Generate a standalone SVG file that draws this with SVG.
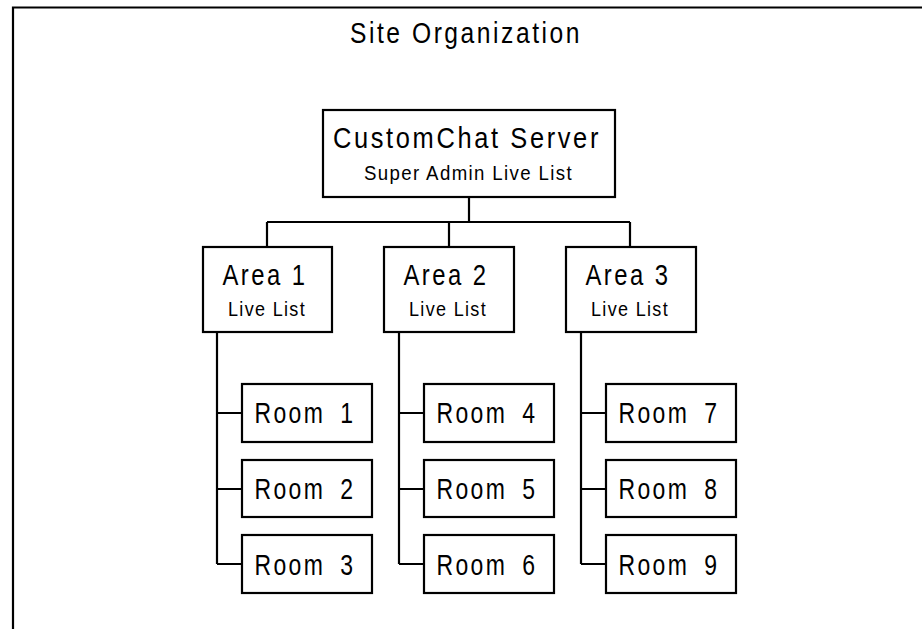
<svg xmlns="http://www.w3.org/2000/svg" width="922" height="629" viewBox="0 0 922 629">
  <style>
    .box { fill: #ffffff; stroke: #000000; stroke-width: 2.2; }
    .wire { fill: none; stroke: #000000; stroke-width: 2.2; }
    text { font-family: "Liberation Sans", Arial, sans-serif; fill: #000000; text-anchor: middle; }
    .big { font-size: 29px; letter-spacing: 3px; }
    .small { font-size: 20.5px; letter-spacing: 1.5px; }
    .room { word-spacing: 8px; }
  </style>
  <rect width="922" height="629" fill="#ffffff"/>
  <!-- page frame (top and left edges) -->
  <path class="wire" d="M13 629 V7.5 H922"/>
  <text class="big" x="466" y="43" textLength="232" lengthAdjust="spacingAndGlyphs">Site Organization</text>

  <g id="connectors">
    <path class="wire" d="M469 197 V222 M267 222 H630 M267 222 V247 M449 222 V247 M630 222 V247"/>
    <path class="wire" d="M217 332 V564 M217 413 H242 M217 489 H242 M217 564 H242"/>
    <path class="wire" d="M399 332 V564 M399 413 H424 M399 489 H424 M399 564 H424"/>
    <path class="wire" d="M581 332 V564 M581 413 H606 M581 489 H606 M581 564 H606"/>
  </g>

  <g id="server">
    <rect class="box" x="323" y="110" width="292" height="87"/>
    <text class="big" x="467" y="148" textLength="268" lengthAdjust="spacingAndGlyphs">CustomChat Server</text>
    <text class="small" x="468.5" y="180" textLength="209" lengthAdjust="spacingAndGlyphs">Super Admin Live List</text>
  </g>

  <g id="area1">
    <rect class="box" x="203" y="247" width="129" height="85"/>
    <text class="big" x="265" y="285" textLength="85" lengthAdjust="spacingAndGlyphs">Area 1</text>
    <text class="small" x="267" y="316" textLength="78" lengthAdjust="spacingAndGlyphs">Live List</text>
  </g>
  <g id="area2">
    <rect class="box" x="384" y="247" width="130" height="85"/>
    <text class="big" x="446" y="285" textLength="85" lengthAdjust="spacingAndGlyphs">Area 2</text>
    <text class="small" x="448" y="316" textLength="78" lengthAdjust="spacingAndGlyphs">Live List</text>
  </g>
  <g id="area3">
    <rect class="box" x="566" y="247" width="130" height="85"/>
    <text class="big" x="628" y="285" textLength="85" lengthAdjust="spacingAndGlyphs">Area 3</text>
    <text class="small" x="630" y="316" textLength="78" lengthAdjust="spacingAndGlyphs">Live List</text>
  </g>

  <g id="room1"><rect class="box" x="242" y="384" width="130" height="58"/><text class="big room" x="305" y="423" textLength="101" lengthAdjust="spacingAndGlyphs">Room 1</text></g>
  <g id="room2"><rect class="box" x="242" y="460" width="130" height="57"/><text class="big room" x="305" y="499" textLength="101" lengthAdjust="spacingAndGlyphs">Room 2</text></g>
  <g id="room3"><rect class="box" x="242" y="535" width="130" height="58"/><text class="big room" x="305" y="575" textLength="101" lengthAdjust="spacingAndGlyphs">Room 3</text></g>

  <g id="room4"><rect class="box" x="424" y="384" width="130" height="58"/><text class="big room" x="487" y="423" textLength="101" lengthAdjust="spacingAndGlyphs">Room 4</text></g>
  <g id="room5"><rect class="box" x="424" y="460" width="130" height="57"/><text class="big room" x="487" y="499" textLength="101" lengthAdjust="spacingAndGlyphs">Room 5</text></g>
  <g id="room6"><rect class="box" x="424" y="535" width="130" height="58"/><text class="big room" x="487" y="575" textLength="101" lengthAdjust="spacingAndGlyphs">Room 6</text></g>

  <g id="room7"><rect class="box" x="606" y="384" width="130" height="58"/><text class="big room" x="669" y="423" textLength="101" lengthAdjust="spacingAndGlyphs">Room 7</text></g>
  <g id="room8"><rect class="box" x="606" y="460" width="130" height="57"/><text class="big room" x="669" y="499" textLength="101" lengthAdjust="spacingAndGlyphs">Room 8</text></g>
  <g id="room9"><rect class="box" x="606" y="535" width="130" height="58"/><text class="big room" x="669" y="575" textLength="101" lengthAdjust="spacingAndGlyphs">Room 9</text></g>
</svg>
